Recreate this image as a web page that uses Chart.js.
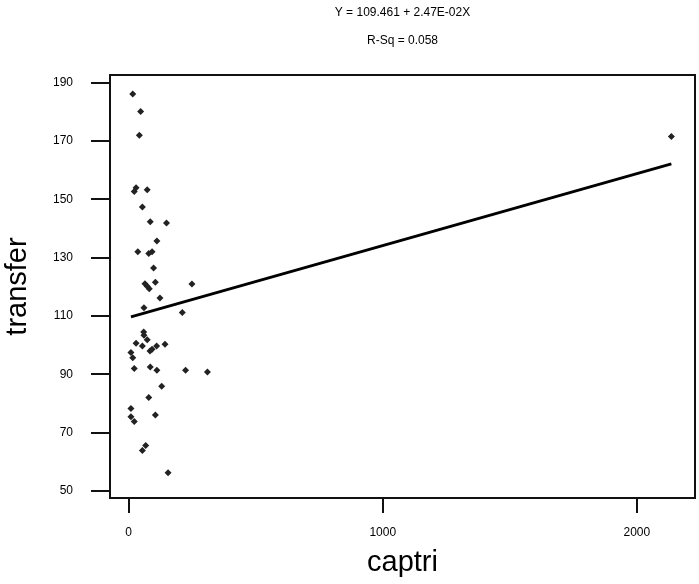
<!DOCTYPE html>
<html>
<head>
<meta charset="utf-8">
<script src="https://cdn.jsdelivr.net/npm/chart.js@4"></script>
<style>
    body { margin: 0; background: #fff; }
    canvas { display: block; }
</style>
</head>
<body>
<canvas id="plot" width="699" height="584"></canvas>
<script>
// values
const captri = [16, 47, 42,
    22, 29, 73, 54, 85, 149, 111, 36, 79, 92, 98, 64, 73, 81, 105, 249, 123, 60, 211,
    59, 60, 73, 29, 54, 110, 143, 84, 92, 9, 16, 22, 85, 111, 224, 310, 130, 79, 9, 9, 22, 105, 67, 54, 155,
    2136];
const transfer = [186.2, 180.2, 172.0,
    152.7, 154, 153.3, 147.4, 142.4, 141.9, 135.8, 132.1, 131.5, 132.1, 126.5, 121.1, 120.2, 119.4, 121.6, 121, 116.2, 112.9, 111.2,
    104.5, 103.4, 101.9, 100.7, 99.7, 99.7, 100.3, 98, 98.6, 97.5, 95.7, 92, 92.5, 91.4, 91.4, 90.8, 85.9, 82.1, 78.3, 75.5, 73.8, 76.1, 65.6, 63.9, 56.3,
    171.6];

// fitted line end points
const fitX = [9, 2136];
const fitY = [109.7, 162.2];

const xTicks = [0, 1000, 2000];
const yTicks = [50, 70, 90, 110, 130, 150, 170, 190];
const titleLines = ['Y = 109.461 + 2.47E-02X', 'R-Sq = 0.058'];

const fontFamily = "'Liberation Sans', Arial, sans-serif";

document.addEventListener('DOMContentLoaded', function() {
    // frame and header text
    const framePlugin = {
        id: 'frame',
        afterDraw(chart) {
            const ctx = chart.ctx;
            const a = chart.chartArea;
            ctx.save();
            ctx.strokeStyle = '#111';
            ctx.lineWidth = 2;
            ctx.strokeRect(a.left, a.top, a.right - a.left, a.bottom - a.top);
            ctx.fillStyle = '#000';
            ctx.font = '12px ' + fontFamily;
            ctx.textAlign = 'center';
            ctx.textBaseline = 'middle';
            const cx = (a.left + a.right) / 2;
            ctx.fillText(titleLines[0], cx, 13);
            ctx.fillText(titleLines[1], cx, 41);
            ctx.restore();
        }
    };

    const points = captri.map((x, i) => ({ x: x, y: transfer[i] }));
    const fit = fitX.map((x, i) => ({ x: x, y: fitY[i] }));

    new Chart(document.getElementById('plot'), {
        type: 'scatter',
        data: {
            datasets: [{
                data: points,
                pointStyle: 'rectRot',
                pointRadius: 3.5,
                backgroundColor: '#222',
                borderWidth: 0
            }, {
                type: 'line',
                data: fit,
                borderColor: '#000',
                borderWidth: 2.8,
                pointRadius: 0,
                fill: false
            }]
        },
        options: {
            responsive: false,
            animation: false,
            layout: { padding: { top: 75, right: 3, left: 0, bottom: 0 } },
            plugins: {
                legend: { display: false },
                tooltip: { enabled: false }
            },
            scales: {
                x: {
                    type: 'linear',
                    min: -73.5,
                    max: 2229,
                    afterBuildTicks: s => { s.ticks = xTicks.map(v => ({ value: v })); },
                    afterFit: s => { s.height = 86; },
                    border: { display: false },
                    grid: {
                        drawOnChartArea: false,
                        drawTicks: true,
                        tickLength: 15,
                        color: '#111',
                        lineWidth: 2
                    },
                    ticks: {
                        color: '#000',
                        padding: 12,
                        font: { family: fontFamily, size: 12 },
                        callback: v => String(v)
                    },
                    title: {
                        display: true,
                        text: 'captri',
                        color: '#000',
                        padding: { top: 0, bottom: 4 },
                        font: { family: fontFamily, size: 29 }
                    }
                },
                y: {
                    type: 'linear',
                    min: 47.6,
                    max: 192.7,
                    afterBuildTicks: s => { s.ticks = yTicks.map(v => ({ value: v })); },
                    afterFit: s => { s.width = 110; },
                    border: { display: false },
                    grid: {
                        drawOnChartArea: false,
                        drawTicks: true,
                        tickLength: 19,
                        color: '#111',
                        lineWidth: 2
                    },
                    ticks: {
                        color: '#000',
                        padding: 18,
                        font: { family: fontFamily, size: 12 },
                        callback: v => String(v)
                    },
                    title: {
                        display: true,
                        text: 'transfer',
                        color: '#000',
                        padding: { top: 1, bottom: 0 },
                        font: { family: fontFamily, size: 29 }
                    }
                }
            }
        },
        plugins: [framePlugin]
    });
});
</script>
</body>
</html>
